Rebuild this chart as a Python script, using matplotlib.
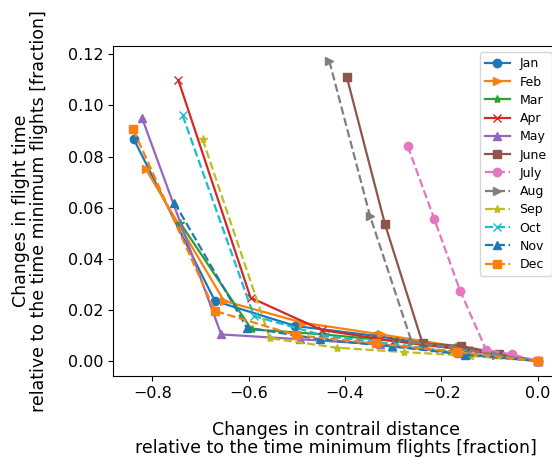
import matplotlib
matplotlib.use("Agg")
import matplotlib.pyplot as plt

months = ["Jan", "Feb", "Mar", "Apr", "May", "June",
          "July", "Aug", "Sep", "Oct", "Nov", "Dec"]

# contrail distance change (x) and flight time change (y) per month
x_jan = [-0.838, -0.670, -0.503, -0.335, -0.168, 0.0]
y_jan = [0.0867, 0.0235, 0.0137, 0.0098, 0.0050, 0.0]
x_feb = [-0.813, -0.651, -0.488, -0.325, -0.163, 0.0]
y_feb = [0.0750, 0.0235, 0.0150, 0.0104, 0.0055, 0.0]
x_mar = [-0.742, -0.594, -0.445, -0.297, -0.148, 0.0]
y_mar = [0.0540, 0.0124, 0.0104, 0.0078, 0.0043, 0.0]
x_apr = [-0.746, -0.596, -0.448, -0.298, -0.144, 0.0]
y_apr = [0.1100, 0.0248, 0.0121, 0.0078, 0.0043, 0.0]
x_may = [-0.821, -0.657, -0.493, -0.328, -0.164, 0.0]
y_may = [0.0950, 0.0104, 0.0085, 0.0065, 0.0030, 0.0]
x_jun = [-0.3965, -0.317, -0.239, -0.159, -0.080, 0.0]
y_jun = [0.1113, 0.0535, 0.0069, 0.0059, 0.0029, 0.0]
x_jul = [-0.270, -0.215, -0.161, -0.107, -0.054, 0.0]
y_jul = [0.0841, 0.0557, 0.0274, 0.0043, 0.0026, 0.0]
x_aug = [-0.4326, -0.348, -0.2616, -0.173, -0.0865, 0.0]
y_aug = [0.1174, 0.0567, 0.0074, 0.0050, 0.0025, 0.0]
x_sep = [-0.6955, -0.556, -0.417, -0.2776, -0.139, 0.0]
y_sep = [0.0867, 0.0089, 0.0052, 0.0035, 0.0020, 0.0]
x_oct = [-0.737, -0.589, -0.442, -0.295, -0.147, 0.0]
y_oct = [0.0961, 0.0176, 0.0098, 0.0065, 0.0030, 0.0]
x_nov = [-0.754, -0.604, -0.452, -0.302, -0.151, 0.0]
y_nov = [0.0620, 0.0131, 0.0085, 0.0057, 0.0025, 0.0]
x_dec = [-0.8395, -0.670, -0.502, -0.336, -0.168, 0.0]
y_dec = [0.0906, 0.0196, 0.0101, 0.0069, 0.0035, 0.0]

xs = [x_jan, x_feb, x_mar, x_apr, x_may, x_jun,
      x_jul, x_aug, x_sep, x_oct, x_nov, x_dec]
ys = [y_jan, y_feb, y_mar, y_apr, y_may, y_jun,
      y_jul, y_aug, y_sep, y_oct, y_nov, y_dec]

markers = ["o", ">", "*", "x", "^", "s"] * 2
styles = ["-"] * 6 + ["--"] * 6
colors = plt.rcParams["axes.prop_cycle"].by_key()["color"]
colors = colors + colors[:2]

fig = plt.figure(figsize=(5.52, 4.58), dpi=100)
ax = fig.add_axes([113 / 552, 82 / 458, 445 / 552, 330 / 458])

for i, m in enumerate(months):
    ax.plot(xs[i], ys[i], linestyle=styles[i], marker=markers[i],
            color=colors[i], label=m, linewidth=1.6, markersize=6)

ax.tick_params(labelsize=11.5)
ax.set_xticks([-0.8, -0.6, -0.4, -0.2, 0.0])
ax.set_yticks([0.0, 0.02, 0.04, 0.06, 0.08, 0.10, 0.12])
ax.set_xlabel("Changes in contrail distance\nrelative to the time minimum flights [fraction]",
              fontsize=12.5, linespacing=1.0)
ax.set_ylabel("Changes in flight time\nrelative to the time minimum flights [fraction]",
              fontsize=12.5, linespacing=1.05)
ax.xaxis.set_label_coords(0.5, -0.135)
ax.yaxis.set_label_coords(-0.145, 0.5)
ax.legend(loc="upper right", fontsize=9, labelspacing=0.42,
          handlelength=2.0)

fig.savefig("out.png", dpi=100)
